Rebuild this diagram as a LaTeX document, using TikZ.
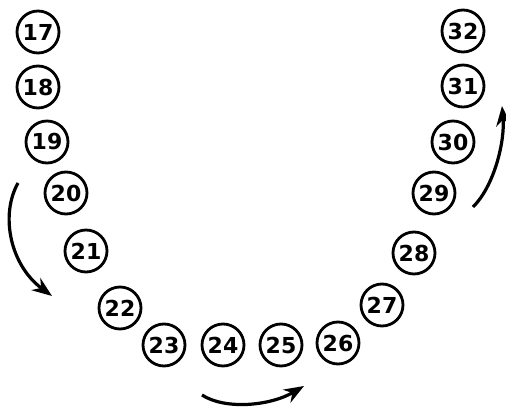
\documentclass[tikz,border=0pt]{standalone}
\usepackage{fontspec}
\setsansfont{DejaVu Sans}
\usetikzlibrary{arrows.meta}

\tikzset{
  tooth/.style={circle, draw, line width=2.8pt, inner sep=0pt, minimum size=42pt,
    font=\fontsize{22}{22}\selectfont\sffamily\bfseries},
  turn/.style={line width=3.2pt, -{Stealth[length=20pt,width=15pt]}}
}

\begin{document}
\begin{tikzpicture}[x=1pt,y=-1pt]
        \useasboundingbox (0,0) rectangle (506,411);
        % Nodes
        \node (17) at (38,32)  [tooth] {17};
        \node (18) at (38,87)  [tooth] {18};
        \node (19) at (47,142) [tooth] {19};
        \node (20) at (66,193) [tooth] {20};
        \node (21) at (86,251) [tooth] {21};
        \node (22) at (120,308) [tooth] {22};
        \node (23) at (164,345) [tooth] {23};
        \node (24) at (223,345) [tooth] {24};
        \node (25) at (281,345) [tooth] {25};
        \node (26) at (338,343) [tooth] {26};
        \node (27) at (382,305) [tooth] {27};
        \node (28) at (414,253) [tooth] {28};
        \node (29) at (434,193) [tooth] {29};
        \node (30) at (453,142) [tooth] {30};
        \node (31) at (463,86)  [tooth] {31};
        \node (32) at (463,31)  [tooth] {32};

        % Arrows
        \coordinate (a1) at (18,183);
        \coordinate (b1) at (52,296);
        \coordinate (a2) at (202,395);
        \coordinate (b2) at (304,386);
        \coordinate (a3) at (473,207);
        \coordinate (b3) at (502,106);
        \draw[turn] (a1) .. controls (0,215) and (10,265) .. (b1);
        \draw[turn] (a2) .. controls (225,410) and (270,406) .. (b2);
        \draw[turn] (a3) .. controls (495,185) and (505,140) .. (b3);
      \end{tikzpicture}
\end{document}
